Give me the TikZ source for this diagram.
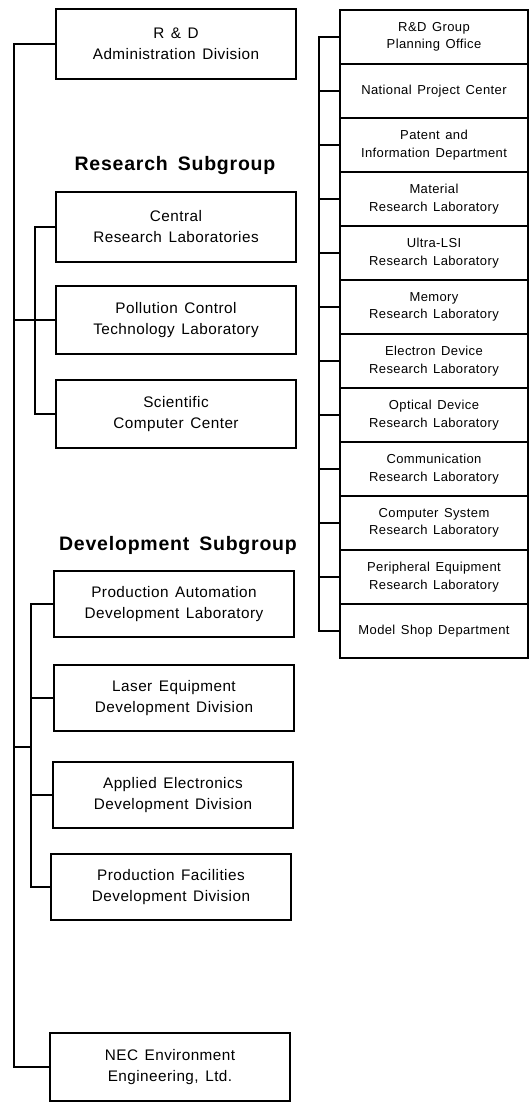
\documentclass[tikz,border=0pt]{standalone}
\usepackage{fontspec}
\setmainfont{Liberation Sans}
\newfontfamily\boxfont{Liberation Sans}[LetterSpace=3,WordSpace=1.7]
\newfontfamily\smallfont{Liberation Sans}[LetterSpace=3,WordSpace=1.4]
\newfontfamily\titlefont{Liberation Sans}[LetterSpace=4,WordSpace=1.6]
\begin{document}
\begin{tikzpicture}[x=1pt,y=-1pt,
  lbox/.style={draw,line width=2pt,minimum width=240pt,inner sep=0pt,align=center,
    font=\boxfont\fontsize{15.3}{21}\selectfont},
  rbox/.style={draw,line width=1.8pt,minimum width=188pt,minimum height=54pt,inner sep=0pt,align=center,
    font=\smallfont\fontsize{13}{17.5}\selectfont},
  ttl/.style={font=\titlefont\bfseries\fontsize{19.5}{22}\selectfont,inner sep=0pt},
  bus/.style={line width=2pt}]
\useasboundingbox (0,0) rectangle (530,1103);
% left column
\node[lbox,minimum height=70pt] (adm) at (176,44) {R \& D\\Administration Division};
\node[ttl] (rs) at (175,165) {Research Subgroup};
\node[lbox,minimum height=70pt] (crl) at (176,227) {Central\\Research Laboratories};
\node[lbox,minimum height=68pt] (pct) at (176,320) {Pollution Control\\Technology Laboratory};
\node[lbox,minimum height=68pt] (scc) at (176,414) {Scientific\\Computer Center};
\node[ttl] (ds) at (178,545) {Development Subgroup};
\node[lbox,minimum height=66pt] (pad) at (174,604) {Production Automation\\Development Laboratory};
\node[lbox,minimum height=66pt] (led) at (174,698) {Laser Equipment\\Development Division};
\node[lbox,minimum height=66pt] (aed) at (173,795) {Applied Electronics\\Development Division};
\node[lbox,minimum height=66pt] (pfd) at (171,887) {Production Facilities\\Development Division};
\node[lbox,minimum height=68pt] (nec) at (170,1067) {NEC Environment\\Engineering, Ltd.};
% bus coordinates
\coordinate (mb) at (14,0);
\coordinate (rb) at (35,0);
\coordinate (db) at (31,0);
\coordinate (dj) at (14,747);
% main bus
\draw[bus] (adm.west) -| (mb |- nec.west) -- (nec.west);
\draw[bus] (pct.west -| mb) -- (pct.west);
\draw[bus] (dj) -- (dj -| db);
% research sub bus
\draw[bus] (crl.west) -| (rb |- scc.west) -- (scc.west);
% development sub bus
\draw[bus] (pad.west) -| (db |- pfd.west) -- (pfd.west);
\draw[bus] (led.west -| db) -- (led.west);
\draw[bus] (aed.west -| db) -- (aed.west);
% right column
\foreach \i/\t in {1/{R\&D Group\\Planning Office},
  2/{National Project Center},
  3/{Patent and\\Information Department},
  4/{Material\\Research Laboratory},
  5/{Ultra-LSI\\Research Laboratory},
  6/{Memory\\Research Laboratory},
  7/{Electron Device\\Research Laboratory},
  8/{Optical Device\\Research Laboratory},
  9/{Communication\\Research Laboratory},
  10/{Computer System\\Research Laboratory},
  11/{Peripheral Equipment\\Research Laboratory},
  12/{Model Shop Department}}{
  \node[rbox] (r\i) at (434,{54*\i-17}) {\t};
}
\coordinate (xb) at (319,0);
\draw[bus] (r1.west) -| (xb |- r12.west) -- (r12.west);
\foreach \i in {2,...,11}{
  \draw[bus] (r\i.west -| xb) -- (r\i.west);
}
\end{tikzpicture}
\end{document}
